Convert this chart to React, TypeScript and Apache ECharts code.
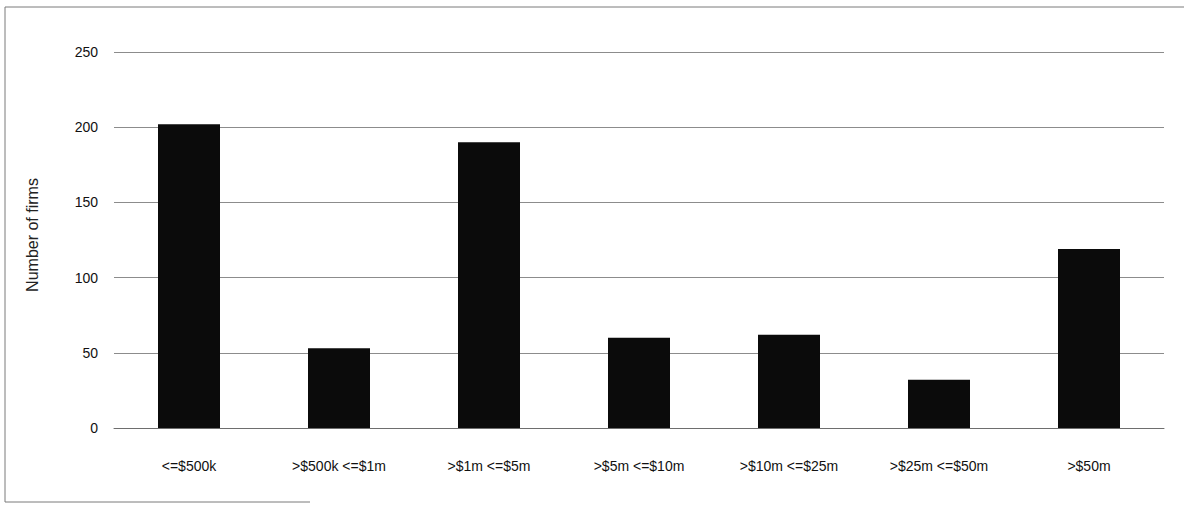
import React, { useEffect, useRef } from "react";
import * as echarts from "echarts";

const categories = [
  "<=$500k",
  ">$500k <=$1m",
  ">$1m <=$5m",
  ">$5m <=$10m",
  ">$10m <=$25m",
  ">$25m <=$50m",
  ">$50m",
];
const firms = [202, 53, 190, 60, 62, 32, 119];
const yTicks = { min: 0, max: 250, interval: 50 };
const yAxisTitle = "Number of firms";

export default function App() {
  const ref = useRef<HTMLDivElement>(null);
  useEffect(() => {
    if (!ref.current) return;
    const chart = echarts.init(ref.current, null, { renderer: "svg" });
    const font = "'Liberation Sans', Arial, sans-serif";
    chart.setOption({
      animation: false,
      backgroundColor: "#ffffff",
      grid: { left: 114, right: 20, top: 52, bottom: 85 },
      xAxis: {
        type: "category",
        data: categories,
        axisLine: { show: true, lineStyle: { color: "#6e6e6e", width: 1 } },
        axisTick: { show: false },
        axisLabel: {
          color: "#111",
          fontFamily: font,
          fontSize: 14,
          margin: 31,
          interval: 0,
        },
      },
      yAxis: {
        type: "value",
        min: yTicks.min,
        max: yTicks.max,
        interval: yTicks.interval,
        name: yAxisTitle,
        nameLocation: "middle",
        nameGap: 74,
        nameTextStyle: { color: "#222", fontFamily: font, fontSize: 16, padding: [0, 0, 0, 10] },
        axisLine: { show: false },
        axisTick: { show: false },
        axisLabel: { color: "#111", fontFamily: font, fontSize: 14, margin: 16 },
        splitLine: { lineStyle: { color: "#8c8c8c", width: 1 } },
      },
      series: [
        {
          type: "bar",
          data: firms,
          barWidth: 62,
          itemStyle: { color: "#0b0b0b" },
        },
      ],
      graphic: [
        { type: "line", shape: { x1: 5, y1: 7, x2: 1184, y2: 7 }, style: { stroke: "#7a7a7a", lineWidth: 1 } },
        { type: "line", shape: { x1: 5, y1: 7, x2: 5, y2: 502 }, style: { stroke: "#7a7a7a", lineWidth: 1 } },
        { type: "line", shape: { x1: 5, y1: 502, x2: 310, y2: 502 }, style: { stroke: "#7a7a7a", lineWidth: 1 } },
      ],
    });
    return () => chart.dispose();
  }, []);
  return (
    <div
      ref={ref}
      style={{ position: "fixed", left: 0, top: 0, width: 1184, height: 513 }}
    />
  );
}
